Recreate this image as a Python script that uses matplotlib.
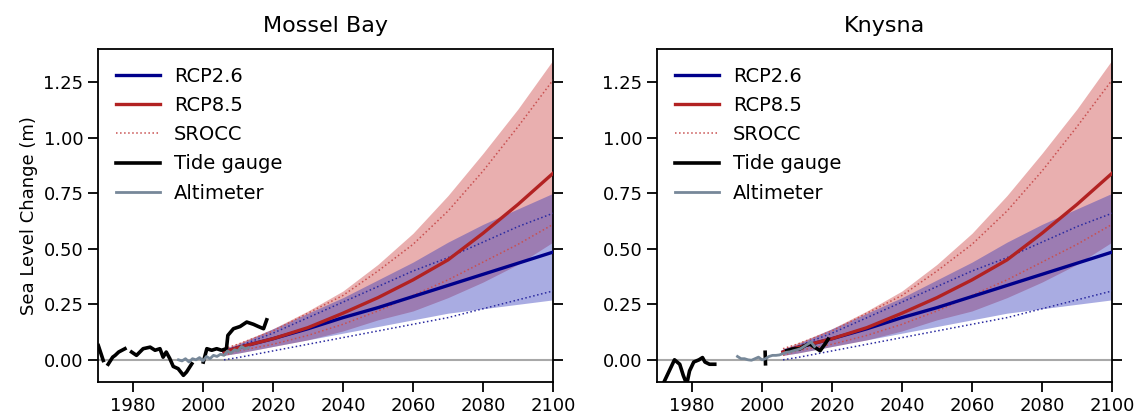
import numpy as np
import matplotlib
matplotlib.use("Agg")
import matplotlib.pyplot as plt

# projection years and values (m)
proj_years = [2006, 2010, 2020, 2030, 2040, 2050, 2060, 2070, 2080, 2090, 2100]

rcp26_med = [0.035, 0.055, 0.095, 0.14, 0.19, 0.235, 0.285, 0.335, 0.385, 0.435, 0.485]
rcp26_lo = [0.02, 0.03, 0.06, 0.09, 0.12, 0.15, 0.18, 0.21, 0.23, 0.25, 0.27]
rcp26_hi = [0.05, 0.07, 0.14, 0.21, 0.28, 0.36, 0.44, 0.53, 0.61, 0.68, 0.75]

rcp85_med = [0.035, 0.055, 0.095, 0.145, 0.21, 0.28, 0.36, 0.45, 0.57, 0.70, 0.84]
rcp85_lo = [0.02, 0.03, 0.06, 0.09, 0.13, 0.18, 0.22, 0.28, 0.35, 0.43, 0.53]
rcp85_hi = [0.05, 0.075, 0.14, 0.22, 0.31, 0.43, 0.57, 0.74, 0.93, 1.13, 1.35]

srocc26_lo = [0.0, 0.01, 0.04, 0.07, 0.10, 0.13, 0.16, 0.19, 0.23, 0.27, 0.31]
srocc26_hi = [0.04, 0.06, 0.12, 0.19, 0.26, 0.33, 0.40, 0.46, 0.53, 0.60, 0.66]
srocc85_lo = [0.02, 0.04, 0.07, 0.11, 0.16, 0.22, 0.29, 0.36, 0.44, 0.52, 0.61]
srocc85_hi = [0.05, 0.07, 0.13, 0.21, 0.29, 0.40, 0.52, 0.67, 0.85, 1.05, 1.26]

# Mossel Bay observations
mb_tg_years = [1970.1, 1971.5, 1972.2, 1972.9, 1974.2, 1974.9, 1975.9, 1977.7, 1978.5,
               1979.6, 1981.0, 1982.9, 1984.9, 1986.3, 1987.7, 1988.6, 1989.5, 1990.5,
               1991.5, 1992.9, 1994.4, 1995.3, 1996.8, 1998.0, 2000.1, 2001.1, 2002.5,
               2003.9, 2005.3, 2006.7, 2007.1, 2008.7, 2010.6, 2012.5, 2014.4, 2015.8,
               2017.3, 2018.2]
mb_tg_vals = [0.064, -0.003, np.nan, -0.02, 0.012, 0.02, 0.035, 0.05, np.nan,
              0.035, 0.02, 0.05, 0.057, 0.043, 0.05, 0.012, 0.035, 0.006,
              -0.03, -0.04, -0.07, -0.055, -0.018, np.nan, -0.01, 0.05, 0.043,
              0.05, 0.043, 0.05, 0.11, 0.14, 0.15, 0.17, 0.16, 0.15,
              0.14, 0.18]
mb_alt_years = [1993, 1994, 1995, 1996, 1997, 1998, 1999, 2000, 2001, 2002, 2003,
                2004, 2005, 2006, 2007, 2008, 2009, 2010, 2011, 2012, 2013]
mb_alt_vals = [0.0, -0.005, 0.005, -0.01, 0.005, 0.0, 0.01, -0.005, 0.015, 0.005, 0.02,
               0.015, 0.025, 0.02, 0.04, 0.03, 0.045, 0.04, 0.06, 0.05, 0.055]

# Knysna observations
kn_tg_years = [1972.0, 1973.5, 1975.0, 1976.5, 1977.5, 1978.5, 1979.3, 1980.5, 1982.0,
               1983.0, 1983.7, 1985.0, 1986.5, 1993.0, 2000.9, 2001.0, 2004.0,
               2007.1, 2008.9, 2010.8, 2012.3, 2013.7, 2015.1, 2016.6, 2018.0, 2018.9]
kn_tg_vals = [-0.10, -0.05, 0.0, -0.02, -0.07, -0.11, -0.05, -0.01, 0.0,
              0.01, -0.01, -0.02, -0.02, np.nan, 0.034, -0.018, np.nan,
              0.041, 0.049, 0.049, 0.064, 0.071, 0.056, 0.041, 0.071, 0.093]
kn_alt_years = [1993, 1994, 1995, 1996, 1997, 1998, 1999, 2000, 2001, 2002, 2003,
                2004, 2005, 2006, 2007, 2008, 2009, 2010, 2011, 2012, 2013, 2014, 2015]
kn_alt_vals = [0.015, 0.005, 0.005, 0.0, -0.002, 0.005, 0.012, 0.0, 0.005, 0.015, 0.02,
               0.02, 0.022, 0.028, 0.034, 0.036, 0.041, 0.045, 0.05, 0.06, 0.07, 0.08, 0.06]

sites = [("Mossel Bay", mb_tg_years, mb_tg_vals, mb_alt_years, mb_alt_vals),
         ("Knysna", kn_tg_years, kn_tg_vals, kn_alt_years, kn_alt_vals)]

c26 = "#00008b"
c85 = "#b22222"

fig = plt.figure(figsize=(11.35, 4.18), dpi=100)
lefts = [98 / 1135, 657 / 1135]

for i, (name, tg_y, tg_v, alt_y, alt_v) in enumerate(sites):
    ax = fig.add_axes([lefts[i], 36 / 418, 455 / 1135, 333 / 418])

    ax.axhline(0, color="#a8a8a8", lw=1.5, zorder=1)

    ax.fill_between(proj_years, rcp85_lo, rcp85_hi, color="#c83838", alpha=0.4, lw=0, zorder=2)
    ax.fill_between(proj_years, rcp26_lo, rcp26_hi, color="#2a30b8", alpha=0.4, lw=0, zorder=2)

    ax.plot(proj_years, srocc85_hi, ":", color="#c85050", lw=1.1, zorder=3, label="SROCC")
    ax.plot(proj_years, srocc85_lo, ":", color="#c85050", lw=1.1, zorder=3)
    ax.plot(proj_years, srocc26_hi, ":", color="#2a2aa0", lw=1.1, zorder=3)
    ax.plot(proj_years, srocc26_lo, ":", color="#2a2aa0", lw=1.1, zorder=3)

    ax.plot(proj_years, rcp26_med, color=c26, lw=2.4, zorder=4, label="RCP2.6")
    ax.plot(proj_years, rcp85_med, color=c85, lw=2.4, zorder=4, label="RCP8.5")

    ax.plot(tg_y, tg_v, color="black", lw=2.6, zorder=5, label="Tide gauge")
    ax.plot(alt_y, alt_v, color="#778899", lw=2.0, zorder=5, label="Altimeter")

    ax.set_xlim(1970, 2100)
    ax.set_ylim(-0.1, 1.4)
    ax.set_xticks(np.arange(1980, 2101, 20))
    ax.set_yticks(np.arange(0, 1.26, 0.25))
    ax.yaxis.set_major_formatter(matplotlib.ticker.FormatStrFormatter("%.2f"))
    ax.tick_params(direction="out", length=7, width=1.3, labelsize=13,
                   right=True, labelright=False)
    for sp in ax.spines.values():
        sp.set_linewidth(1.3)

    ax.set_title(name, fontsize=16, pad=12)
    if i == 0:
        ax.set_ylabel("Sea Level Change (m)", fontsize=13)

    handles, labels = ax.get_legend_handles_labels()
    order = ["RCP2.6", "RCP8.5", "SROCC", "Tide gauge", "Altimeter"]
    hmap = dict(zip(labels, handles))
    ax.legend([hmap[k] for k in order], order, loc="upper left", frameon=False,
              fontsize=14, handlelength=2.3, handletextpad=0.7, labelspacing=0.53,
              borderaxespad=0.5)

fig.savefig("out.png", dpi=100)
